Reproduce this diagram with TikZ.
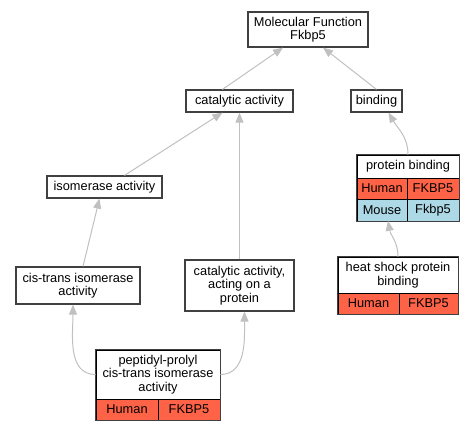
\documentclass[tikz,border=0pt]{standalone}
\usepackage{fontspec}
\setmainfont{Liberation Sans}
\usetikzlibrary{arrows.meta}
\definecolor{tomatored}{HTML}{FF6347}
\definecolor{lblue}{HTML}{ADD8E6}
\definecolor{edgegray}{HTML}{C0C0C0}
\definecolor{bordergray}{HTML}{404040}
\tikzset{
  txt/.style={font=\fontsize{12.8}{13.5}\selectfont, align=center, inner sep=0pt},
  box/.style={txt, draw=bordergray, line width=1.2pt, fill=white},
  cell/.style={txt, draw=black, line width=0.8pt},
  hcell/.style={cell, fill=white},
  redcell/.style={cell, fill=tomatored},
  bluecell/.style={cell, fill=lblue},
  outline/.style={draw=bordergray, line width=1.2pt},
  edge/.style={draw=edgegray, line width=1pt, -{Triangle[length=10pt,width=8pt]}},
}
\begin{document}
\begin{tikzpicture}[x=1pt,y=-1pt]
\useasboundingbox (0,0) rectangle (475,432);
% plain nodes
\node[box, minimum width=120pt, minimum height=35pt] (mf) at (308,29.5) {Molecular Function\\Fkbp5};
\node[box, minimum width=107pt, minimum height=22pt] (cat) at (239.5,101) {catalytic activity};
\node[box, minimum width=51pt, minimum height=22pt] (bind) at (376.5,101) {binding};
\node[box, minimum width=115pt, minimum height=22pt] (iso) at (104.5,187) {isomerase activity};
\node[box, minimum width=124pt, minimum height=37pt] (cis) at (78,285.5) {cis-trans isomerase\\activity};
\node[box, minimum width=109pt, minimum height=51pt] (cata) at (239.5,285.5) {catalytic activity,\\acting on a\\protein};
% protein binding table
\node[hcell, minimum width=102pt, minimum height=23pt] (pb) at (408,166.5) {protein binding};
\node[redcell, minimum width=50pt, minimum height=21pt] (pbh) at (382,188.5) {Human};
\node[redcell, minimum width=52pt, minimum height=21pt] (pbf) at (433,188.5) {FKBP5};
\node[bluecell, minimum width=50pt, minimum height=22pt] (pbm) at (382,210) {Mouse};
\node[bluecell, minimum width=52pt, minimum height=22pt] (pbk) at (433,210) {Fkbp5};
\draw[outline] (pb.north west) rectangle (pbk.south east);
% heat shock table
\node[hcell, minimum width=120pt, minimum height=36pt] (hs) at (398,275) {heat shock protein\\binding};
\node[redcell, minimum width=61pt, minimum height=21pt] (hsh) at (368.5,303.5) {Human};
\node[redcell, minimum width=59pt, minimum height=21pt] (hsf) at (428.5,303.5) {FKBP5};
\draw[outline] (hs.north west) rectangle (hsf.south east);
% peptidyl table
\node[hcell, minimum width=124pt, minimum height=49pt] (pp) at (158,374.5) {peptidyl-prolyl\\cis-trans isomerase\\activity};
\node[redcell, minimum width=62pt, minimum height=21pt] (pph) at (127,409.5) {Human};
\node[redcell, minimum width=62pt, minimum height=21pt] (ppf) at (189,409.5) {FKBP5};
\draw[outline] (pp.north west) rectangle (ppf.south east);
% edges
\draw[edge] ([xshift=-17pt]cat.north) -- ([xshift=-25pt]mf.south);
\draw[edge] (bind.north) -- ([xshift=15pt]mf.south);
\draw[edge] ([xshift=20pt]iso.north) -- ([xshift=-17pt]cat.south);
\draw[edge] (cata.north) -- (cat.south);
\draw[edge] (pb.north) to[out=90,in=-60] ([xshift=12pt]bind.south);
\draw[edge] ([xshift=5pt]cis.north) -- ([xshift=-5pt]iso.south);
\draw[edge] (hs.north) to[out=90,in=-80] ([xshift=6pt,yshift=0.6pt]pbm.south);
\draw[edge] (pp.west) to[out=180,in=-90] ([xshift=-5pt]cis.south);
\draw[edge] (pp.east) to[out=0,in=-90] ([xshift=5pt]cata.south);
\end{tikzpicture}
\end{document}
